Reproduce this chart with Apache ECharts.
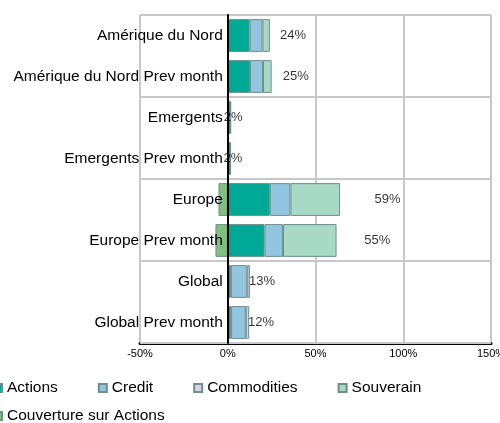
<!DOCTYPE html>
<html>
<head>
<meta charset="utf-8">
<script src="https://cdn.jsdelivr.net/npm/echarts@6/dist/echarts.min.js"></script>
<style>
  html, body { margin: 0; padding: 0; background: #fff; }
  #chart { width: 500px; height: 423px; }
</style>
</head>
<body>
<div id="chart"></div>
<script>
// categories (top to bottom)
const categories = [
  "Amérique du Nord",
  "Amérique du Nord Prev month",
  "Emergents",
  "Emergents Prev month",
  "Europe",
  "Europe Prev month",
  "Global",
  "Global Prev month"
];

// series values, in %
const actions     = [12.5, 12.7, 2.0, 1.9, 24.0, 21.0, 1.8, 1.9];
const credit      = [7.3, 7.4, 0, 0, 11.7, 10.5, 9.3, 8.4];
const commodities = [0, 0, 0, 0, 0, 0, 1.5, 1.9];
const souverain   = [4.2, 4.9, 0, 0, 28.3, 30.5, 0, 0];
const couverture  = [0, 0, 0, 0, -5.3, -7.0, 0, 0];

// x axis ticks
const xMin = -50;
const xMax = 150;
const xStep = 50;

const totals = categories.map((c, i) =>
  actions[i] + credit[i] + commodities[i] + souverain[i] + couverture[i]
);

const gridLeft = 140, gridRight = 9;
const plotW = 500 - gridLeft - gridRight;

const chart = echarts.init(document.getElementById("chart"));
const font = "Liberation Sans, Arial, sans-serif";
const border = { borderColor: "#6f8f8c", borderWidth: 1 };

function barSeries(name, data, color) {
  return {
    name: name,
    type: "bar",
    stack: "total",
    barWidth: "80%",
    data: data.map(v => (v === 0 ? null : v)),
    itemStyle: Object.assign({ color: color }, border)
  };
}

chart.setOption({
  animation: false,
  textStyle: { fontFamily: font },
  grid: {
    left: gridLeft, right: gridRight, top: 15, bottom: 80,
    containLabel: false, outerBoundsMode: "none"
  },
  xAxis: {
    type: "value",
    min: xMin,
    max: xMax,
    interval: xStep,
    axisLine: { show: true, onZero: false, lineStyle: { color: "#000", width: 3 } },
    axisTick: { show: false },
    axisLabel: { formatter: "{value}%", fontSize: 11, color: "#000", margin: 5 },
    splitLine: { show: true, lineStyle: { color: "#c8c8c8", width: 2 } }
  },
  yAxis: {
    type: "category",
    inverse: true,
    data: categories,
    z: 5, // labels drawn over the bars
    // move the axis (line + labels) onto the 0% position
    offset: -plotW * (0 - xMin) / (xMax - xMin),
    axisLine: { show: true, onZero: false, lineStyle: { color: "#000", width: 2 } },
    axisTick: { show: false },
    axisLabel: { fontSize: 15.5, color: "#000", margin: 5 },
    splitLine: { show: true, interval: 1, lineStyle: { color: "#c8c8c8", width: 2 } }
  },
  legend: [
    {
      data: ["Actions", "Credit", "Commodities", "Souverain"],
      left: -7,
      top: 380,
      padding: 0,
      itemWidth: 8,
      itemHeight: 8,
      itemGap: 40,
      icon: "rect",
      textStyle: { fontSize: 15.5, color: "#000" }
    },
    {
      data: ["Couverture sur Actions"],
      left: -7,
      top: 408,
      padding: 0,
      itemWidth: 8,
      itemHeight: 8,
      icon: "rect",
      textStyle: { fontSize: 15.5, color: "#000" }
    }
  ],
  series: [
    barSeries("Actions", actions, "#00a896"),
    barSeries("Credit", credit, "#92c6e0"),
    barSeries("Commodities", commodities, "#d9d3e6"),
    barSeries("Souverain", souverain, "#a8d8c6"),
    barSeries("Couverture sur Actions", couverture, "#80bf80"),
    {
      name: "total",
      type: "scatter",
      symbolSize: 0,
      silent: true,
      data: totals.map((t, i) => [t * 1.55, categories[i]]),
      label: {
        show: true,
        position: "inside",
        color: "#000",
        fontSize: 13,
        formatter: p => Math.round(totals[p.dataIndex]) + "%"
      }
    }
  ]
});
</script>
</body>
</html>
